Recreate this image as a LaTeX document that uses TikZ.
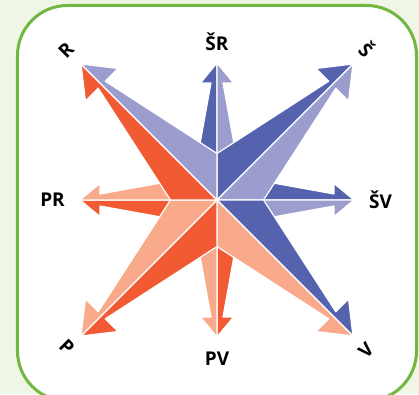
\documentclass[tikz,border=0pt]{standalone}
\usepackage{fontspec}
\setmainfont{Open Sans}
\definecolor{dblue}{RGB}{85,99,174}
\definecolor{lblue}{RGB}{155,157,206}
\definecolor{dorange}{RGB}{241,90,50}
\definecolor{lorange}{RGB}{248,170,138}
\definecolor{bgg}{RGB}{239,246,230}
\definecolor{frameg}{RGB}{114,183,66}
\begin{document}
\begin{tikzpicture}[x=1pt,y=1pt,
  half/.style={draw=white, line width=1.2pt, line join=round},
  lbl/.style={font=\fontsize{19}{20}\selectfont\bfseries, inner sep=0pt}]
\useasboundingbox (-217,-194) rectangle (202,200);
\fill[bgg] (-217,-194) rectangle (202,200);
\draw[frameg, line width=3pt, fill=white, rounded corners=50pt] (-199.5,194.5) rectangle (199.5,-201);
% cardinal arrows
\foreach \ang/\cp/\cm in {90/dblue/lblue, 0/dblue/lblue, -90/dorange/lorange, 180/dorange/lorange} {
  \begin{scope}[rotate=\ang]
    \filldraw[half, fill=\cp] (40,0) -- (137,0) -- (117,16.5) -- (117,6) -- (40,19.9) -- cycle;
    \filldraw[half, fill=\cm] (40,0) -- (137,0) -- (117,-16.5) -- (117,-6) -- (40,-19.9) -- cycle;
  \end{scope}
}
% diagonal arrows
\foreach \ang/\cp/\cm in {45/dblue/lblue, -45/dblue/lorange, -135/dorange/lorange, 135/dorange/lblue} {
  \begin{scope}[rotate=\ang]
    \filldraw[half, fill=\cp] (0,0) -- (192.3,0) -- (163,23) -- (163,5) -- (32.9,32.9) -- cycle;
    \filldraw[half, fill=\cm] (0,0) -- (192.3,0) -- (163,-23) -- (163,-5) -- (32.9,-32.9) -- cycle;
  \end{scope}
}
% labels
\node[lbl] (sr) at (0,158) {ŠR};
\node[lbl] (pr) at (-164.5,0) {PR};
\node[lbl] (sv) at (163.5,0) {ŠV};
\node[lbl] (pv) at (0,-159) {PV};
\node[lbl, rotate=45] (r) at (-151,150) {R};
\node[lbl, rotate=-45] (s) at (150,151) {Š};
\node[lbl, rotate=-45] (p) at (-150,-147) {P};
\node[lbl, rotate=45] (v) at (149,-150) {V};
\end{tikzpicture}
\end{document}
